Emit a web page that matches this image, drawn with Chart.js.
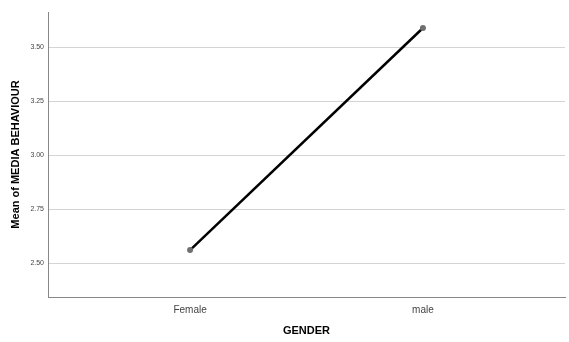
<!DOCTYPE html>
<html><head><meta charset="utf-8">
<script src="https://cdn.jsdelivr.net/npm/chart.js@4"></script>
<style>html,body{margin:0;padding:0;background:#fff}#w{width:569px;height:342px}</style>
</head><body><div id="w"><canvas id="c"></canvas></div>
<script>
const categories = ['Female', 'male'];
const means = [2.56, 3.588];
const yTicks = [2.5, 2.75, 3.0, 3.25, 3.5];

new Chart(document.getElementById('c'), {
  type: 'line',
  data: {
    datasets: [{
      data: categories.map((c, i) => ({x: i, y: means[i]})),
      borderColor: '#000',
      borderWidth: 2.5,
      pointRadius: 3,
      pointBackgroundColor: '#707070',
      pointBorderWidth: 0,
      tension: 0
    }]
  },
  options: {
    responsive: true, maintainAspectRatio: false, animation: false,
    layout: {padding: {top: 12, right: 4, left: 0, bottom: 0}},
    plugins: {legend: {display: false}, tooltip: {enabled: false}},
    scales: {
      x: {
        type: 'linear', min: -0.61, max: 1.61,
        afterBuildTicks: s => { s.ticks = categories.map((c, i) => ({value: i})); },
        afterFit: s => { s.height = 45; },
        ticks: {callback: v => categories[v], color: '#444', font: {family: 'Arial, Liberation Sans', size: 10}, padding: 7},
        grid: {drawOnChartArea: false, drawTicks: false},
        border: {color: '#888', width: 1},
        title: {display: true, text: 'GENDER', color: '#000', font: {family: 'Arial, Liberation Sans', size: 11, weight: 'bold'}, padding: {top: 6}}
      },
      y: {
        min: 2.343, max: 3.662,
        afterBuildTicks: s => { s.ticks = yTicks.map(v => ({value: v})); },
        afterFit: s => { s.width = 48; },
        ticks: {callback: v => v.toFixed(2), color: '#444', font: {family: 'Arial, Liberation Sans', size: 7}, padding: 4},
        grid: {color: '#d4d4d4', drawTicks: false},
        border: {color: '#888', width: 1},
        title: {display: true, text: 'Mean of MEDIA BEHAVIOUR', color: '#000', font: {family: 'Arial, Liberation Sans', size: 11, weight: 'bold'}, padding: {top: 9, bottom: 2}}
      }
    }
  }
});
</script></body></html>
